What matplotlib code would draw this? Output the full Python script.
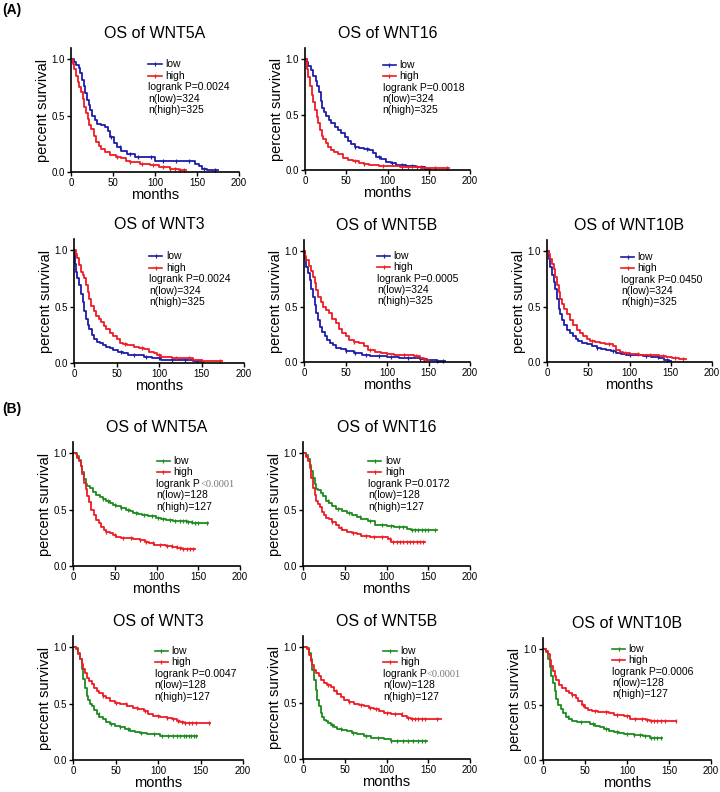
import matplotlib
matplotlib.use('Agg')
import matplotlib.pyplot as plt
import numpy as np

plt.rcParams['font.family'] = ['Liberation Sans', 'DejaVu Sans']

# ---- data: Kaplan-Meier curves (months, survival) ----
# (A) TCGA set, n(low)=324 / n(high)=325
a_wnt5a_low_t = [0, 3, 6, 9, 11, 13, 15, 17, 19, 21, 23, 25, 28, 31, 36, 41, 44, 47, 51, 55, 60, 67, 76, 98, 100, 144, 148, 152, 156, 162, 175]
a_wnt5a_low_s = [1.0, .98, .95, .92, .88, .82, .76, .70, .64, .59, .55, .50, .46, .43, .42, .40, .36, .31, .26, .22, .19, .16, .13, .13, .10, .10, .07, .05, .03, .015, .015]
a_wnt5a_high_t = [0, 2, 4, 6, 8, 10, 12, 14, 16, 18, 20, 22, 24, 27, 30, 33, 36, 40, 47, 53, 59, 65, 70, 82, 94, 105, 118, 128, 137]
a_wnt5a_high_s = [1.0, .96, .91, .85, .80, .75, .71, .65, .58, .52, .47, .42, .38, .32, .27, .23, .20, .18, .15, .13, .12, .10, .09, .075, .06, .045, .03, .015, .015]

a_wnt16_low_t = [0, 2, 4, 7, 10, 13, 15, 17, 19, 21, 23, 26, 29, 32, 36, 40, 44, 48, 52, 56, 60, 65, 72, 77, 82, 86, 92, 98, 104, 110, 122, 135, 145, 152]
a_wnt16_low_s = [1.0, .97, .94, .90, .85, .80, .76, .70, .62, .56, .52, .49, .45, .42, .39, .36, .33, .30, .26, .23, .21, .20, .19, .18, .15, .12, .10, .076, .06, .045, .04, .03, .01, .005]
a_wnt16_high_t = [0, 2, 4, 6, 8, 10, 12, 14, 16, 18, 20, 22, 25, 28, 31, 35, 40, 46, 52, 58, 65, 72, 77, 90, 115, 140, 160, 175]
a_wnt16_high_s = [1.0, .91, .84, .76, .68, .61, .54, .48, .42, .36, .31, .28, .24, .21, .18, .16, .14, .11, .09, .08, .067, .055, .045, .035, .03, .02, .015, .015]

a_wnt3_low_t = [0, 1, 2, 4, 6, 8, 10, 12, 14, 16, 18, 21, 24, 27, 30, 34, 38, 42, 46, 52, 58, 64, 70, 82, 92, 102, 115, 130, 140, 150, 152]
a_wnt3_low_s = [1.0, .88, .81, .75, .69, .61, .54, .46, .39, .34, .30, .25, .21, .19, .18, .16, .145, .13, .115, .10, .085, .075, .07, .055, .04, .03, .027, .024, .015, .01, .01]
a_wnt3_high_t = [0, 2, 4, 6, 8, 10, 12, 14, 16, 18, 20, 23, 26, 29, 32, 35, 38, 42, 46, 50, 54, 58, 62, 70, 76, 82, 88, 94, 98, 102, 115, 130, 140, 150, 160, 174]
a_wnt3_high_s = [1.0, .97, .93, .87, .81, .78, .75, .69, .63, .57, .51, .46, .42, .39, .36, .33, .30, .27, .24, .21, .18, .17, .16, .145, .13, .12, .10, .085, .07, .055, .045, .04, .03, .018, .015, .015]

a_wnt5b_low_t = [0, 1, 3, 5, 7, 9, 11, 13, 15, 17, 19, 22, 25, 28, 31, 35, 38, 44, 50, 60, 70, 80, 89, 100, 115, 128, 140, 148, 160, 170]
a_wnt5b_low_s = [1.0, .93, .86, .80, .74, .66, .59, .51, .44, .38, .32, .27, .23, .20, .17, .15, .13, .115, .10, .08, .066, .055, .05, .045, .04, .036, .03, .02, .012, .01]
a_wnt5b_high_t = [0, 1, 3, 6, 9, 11, 13, 15, 17, 20, 23, 26, 30, 34, 38, 42, 46, 50, 54, 60, 66, 72, 77, 85, 93, 100, 109, 120, 132, 140, 144, 150]
a_wnt5b_high_s = [1.0, .96, .92, .87, .82, .77, .71, .65, .59, .54, .50, .47, .44, .39, .35, .30, .26, .23, .20, .18, .17, .14, .11, .09, .08, .07, .066, .06, .05, .04, .02, .02]

a_wnt10b_low_t = [0, 2, 4, 6, 8, 10, 12, 14, 16, 18, 21, 24, 28, 32, 35, 38, 43, 48, 54, 60, 66, 72, 78, 84, 90, 96, 106, 116, 126, 136, 142, 148, 150]
a_wnt10b_low_s = [1.0, .93, .86, .78, .72, .66, .57, .48, .43, .38, .33, .29, .26, .23, .21, .19, .175, .16, .145, .13, .12, .11, .095, .08, .075, .067, .06, .05, .045, .036, .02, .006, .006]
a_wnt10b_high_t = [0, 2, 4, 6, 8, 10, 12, 14, 16, 18, 20, 24, 28, 32, 36, 40, 44, 48, 52, 58, 64, 70, 76, 80, 84, 88, 92, 100, 112, 124, 136, 144, 152, 160, 168]
a_wnt10b_high_s = [1.0, .97, .93, .88, .84, .77, .69, .63, .57, .52, .48, .43, .38, .33, .29, .26, .23, .21, .19, .18, .17, .165, .16, .14, .11, .09, .08, .075, .067, .06, .05, .045, .036, .03, .03]

# (B) second set, n(low)=128 / n(high)=127
b_wnt5a_low_t = [0, 3, 5, 7, 9, 11, 13, 15, 17, 20, 24, 28, 32, 36, 40, 44, 48, 52, 58, 64, 68, 72, 78, 83, 90, 99, 105, 111, 120, 131, 137, 143, 162]
b_wnt5a_low_s = [1.0, 1.0, .98, .94, .89, .83, .77, .73, .71, .69, .66, .63, .61, .59, .575, .56, .545, .53, .515, .50, .485, .47, .46, .455, .44, .425, .42, .41, .40, .395, .39, .38, .38]
b_wnt5a_high_t = [0, 3, 5, 7, 9, 11, 13, 15, 17, 19, 22, 25, 28, 31, 34, 37, 40, 44, 48, 52, 58, 64, 72, 80, 86, 91, 97, 103, 111, 119, 125, 131, 146]
b_wnt5a_high_s = [1.0, .99, .96, .93, .89, .82, .74, .68, .62, .57, .50, .45, .41, .38, .35, .32, .30, .29, .275, .26, .25, .245, .24, .23, .215, .20, .19, .185, .175, .17, .16, .155, .155]

b_wnt16_low_t = [0, 4, 6, 8, 10, 12, 14, 16, 18, 21, 24, 27, 31, 35, 40, 47, 53, 59, 65, 70, 78, 86, 100, 109, 121, 125, 129, 140, 160]
b_wnt16_low_s = [1.0, .985, .95, .90, .84, .78, .73, .68, .67, .65, .62, .58, .555, .53, .51, .49, .47, .45, .435, .42, .40, .36, .355, .35, .344, .33, .315, .315, .315]
b_wnt16_high_t = [0, 4, 6, 8, 10, 12, 14, 16, 18, 20, 23, 25, 28, 31, 35, 39, 43, 47, 53, 59, 65, 70, 80, 90, 102, 105, 146]
b_wnt16_high_s = [1.0, .97, .93, .87, .78, .69, .63, .58, .55, .52, .48, .45, .43, .42, .39, .36, .335, .315, .30, .29, .28, .27, .26, .257, .24, .21, .21]

b_wnt3_low_t = [0, 4, 6, 8, 10, 12, 14, 16, 18, 20, 22, 25, 28, 31, 35, 39, 43, 49, 55, 61, 67, 73, 79, 87, 94, 102, 146]
b_wnt3_low_s = [1.0, .99, .95, .90, .81, .72, .64, .57, .53, .50, .48, .44, .41, .385, .36, .34, .32, .305, .29, .275, .26, .25, .24, .235, .23, .21, .21]
b_wnt3_high_t = [0, 4, 6, 8, 10, 12, 14, 16, 19, 22, 25, 28, 31, 35, 39, 43, 49, 55, 63, 71, 77, 83, 88, 94, 102, 110, 116, 122, 126, 130, 161]
b_wnt3_high_s = [1.0, .985, .94, .90, .85, .81, .77, .73, .70, .67, .64, .61, .59, .57, .55, .525, .51, .495, .48, .465, .45, .436, .41, .39, .385, .377, .36, .347, .34, .33, .33]

b_wnt5b_low_t = [0, 5, 7, 9, 11, 13, 15, 17, 19, 21, 23, 25, 27, 30, 33, 37, 41, 47, 53, 59, 65, 73, 81, 90, 97, 105, 149]
b_wnt5b_low_s = [1.0, .99, .95, .89, .80, .71, .62, .53, .47, .415, .38, .35, .34, .32, .30, .285, .27, .26, .25, .235, .22, .205, .19, .185, .18, .165, .165]
b_wnt5b_high_t = [0, 5, 7, 9, 11, 13, 16, 19, 22, 25, 29, 33, 37, 41, 45, 49, 55, 61, 67, 73, 79, 85, 91, 97, 105, 113, 119, 125, 129, 133, 165]
b_wnt5b_high_s = [1.0, .98, .93, .875, .84, .80, .77, .74, .71, .68, .66, .64, .61, .58, .555, .53, .51, .49, .48, .475, .46, .445, .43, .415, .405, .40, .385, .37, .36, .356, .356]

b_wnt10b_low_t = [0, 4, 6, 8, 10, 12, 14, 16, 18, 21, 24, 27, 31, 35, 40, 50, 56, 62, 68, 73, 79, 85, 91, 96, 108, 119, 127, 142]
b_wnt10b_low_s = [1.0, .97, .91, .84, .76, .69, .62, .55, .50, .46, .42, .39, .37, .355, .345, .34, .325, .31, .295, .28, .265, .25, .24, .23, .225, .22, .20, .20]
b_wnt10b_high_t = [0, 4, 6, 8, 10, 12, 14, 16, 19, 23, 27, 31, 35, 39, 42, 46, 50, 54, 58, 65, 73, 79, 85, 90, 96, 104, 112, 119, 123, 127, 158]
b_wnt10b_high_s = [1.0, .98, .955, .90, .85, .80, .76, .72, .68, .65, .62, .60, .59, .56, .53, .50, .47, .455, .44, .435, .43, .42, .41, .405, .40, .37, .37, .37, .36, .35, .35]

# censored observations (months)
a_wnt5a_cens = ([48, 58, 70, 80, 95, 110, 125, 140, 158, 172], [55, 70, 85, 98, 110, 118, 124, 130, 134])
a_wnt16_cens = ([60, 75, 90, 105, 118, 130, 140], [60, 72, 95, 117, 125, 136, 145, 158, 172])
a_wnt3_cens = ([55, 70, 85, 100, 115, 130, 145], [60, 80, 100, 120, 135, 150, 172])
a_wnt5b_cens = ([50, 62, 75, 90, 105, 125, 140, 160, 168], [60, 80, 100, 120, 135, 145])
a_wnt10b_cens = ([60, 80, 100, 120, 135, 145], [55, 75, 95, 110, 125, 140, 155, 165])
b_wnt5a_cens = ([36, 42, 50, 58, 66, 75, 85, 95, 102, 108, 116, 122, 128, 132, 135, 138, 142, 146, 150, 160],
                [40, 50, 60, 70, 80, 88, 96, 104, 112, 118, 124, 128, 132, 136, 140, 144])
b_wnt16_cens = ([30, 42, 55, 68, 80, 95, 105, 115, 120, 130, 134, 138, 142, 146, 150, 158],
                [35, 45, 60, 75, 85, 95, 104, 108, 112, 116, 120, 124, 128, 132, 136, 140, 144])
b_wnt3_cens = ([30, 45, 55, 65, 80, 95, 105, 112, 118, 122, 126, 130, 133, 136, 139, 142, 145],
               [35, 50, 62, 75, 85, 100, 110, 118, 124, 128, 132, 136, 140, 145, 160])
b_wnt5b_cens = ([35, 45, 60, 75, 90, 105, 112, 120, 126, 132, 138, 142, 146],
                [30, 40, 55, 70, 80, 88, 100, 110, 118, 126, 130, 134, 138, 142, 146, 160])
b_wnt10b_cens = ([30, 45, 60, 75, 88, 100, 108, 116, 122, 128, 132, 136, 140],
                 [35, 48, 62, 75, 88, 100, 110, 118, 124, 128, 132, 136, 140, 145, 158])

genes = ['WNT5A', 'WNT16', 'WNT3', 'WNT5B', 'WNT10B']
a_pvals = ['0.0024', '0.0018', '0.0024', '0.0005', '0.0450']
b_pvals = ['<0.0001', '0.0172', '0.0047', '<0.0001', '0.0006']
a_n = ('n(low)=324', 'n(high)=325')
b_n = ('n(low)=128', 'n(high)=127')

BLUE = '#1c1caa'
RED = '#ee1c24'
GREEN = '#1f8a1f'

# layout in pixels: left, right, top, bottom ; legend x / y (axes fraction)
panels = [
    ('A', 0, (a_wnt5a_low_t, a_wnt5a_low_s), (a_wnt5a_high_t, a_wnt5a_high_s), a_wnt5a_cens, (71, 239, 48, 172), 0.46, 0.87),
    ('A', 1, (a_wnt16_low_t, a_wnt16_low_s), (a_wnt16_high_t, a_wnt16_high_s), a_wnt16_cens, (305, 470, 48, 170), 0.47, 0.86),
    ('A', 2, (a_wnt3_low_t, a_wnt3_low_s), (a_wnt3_high_t, a_wnt3_high_s), a_wnt3_cens, (74, 244, 239, 363), 0.44, 0.86),
    ('A', 3, (a_wnt5b_low_t, a_wnt5b_low_s), (a_wnt5b_high_t, a_wnt5b_high_s), a_wnt5b_cens, (304, 470, 240, 362), 0.44, 0.87),
    ('A', 4, (a_wnt10b_low_t, a_wnt10b_low_s), (a_wnt10b_high_t, a_wnt10b_high_s), a_wnt10b_cens, (547, 712, 240, 362), 0.45, 0.86),
    ('B', 0, (b_wnt5a_low_t, b_wnt5a_low_s), (b_wnt5a_high_t, b_wnt5a_high_s), b_wnt5a_cens, (73, 240, 442, 566), 0.50, 0.85),
    ('B', 1, (b_wnt16_low_t, b_wnt16_low_s), (b_wnt16_high_t, b_wnt16_high_s), b_wnt16_cens, (303, 470, 442, 566), 0.39, 0.85),
    ('B', 2, (b_wnt3_low_t, b_wnt3_low_s), (b_wnt3_high_t, b_wnt3_high_s), b_wnt3_cens, (73, 243, 636, 760), 0.48, 0.88),
    ('B', 3, (b_wnt5b_low_t, b_wnt5b_low_s), (b_wnt5b_high_t, b_wnt5b_high_s), b_wnt5b_cens, (303, 470, 636, 759), 0.48, 0.88),
    ('B', 4, (b_wnt10b_low_t, b_wnt10b_low_s), (b_wnt10b_high_t, b_wnt10b_high_s), b_wnt10b_cens, (543, 711, 638, 760), 0.41, 0.91),
]

W, H = 720, 792
fig = plt.figure(figsize=(W / 100, H / 100), dpi=100)


def surv_at(t, s, c):
    i = np.searchsorted(t, c, side='right') - 1
    return np.asarray(s)[i]


for part, gi, low, high, cens, (l, r, top, bot), lx, ly in panels:
    ax = fig.add_axes([l / W, 1 - bot / H, (r - l) / W, (bot - top) / H])
    low_col = BLUE if part == 'A' else GREEN
    for (t, s), col, ct in [(low, low_col, cens[0]), (high, RED, cens[1])]:
        ax.plot(t, s, drawstyle='steps-post', color=col, lw=1.3, clip_on=False)
        ax.plot(ct, surv_at(t, s, ct), ls='none', marker='|', ms=3, mew=0.9, color=col, clip_on=False)

    ax.set_xlim(0, 200)
    ax.set_ylim(0, 1.1)
    ax.set_xticks([0, 50, 100, 150, 200])
    ax.set_yticks([0.0, 0.5, 1.0])
    ax.set_yticklabels(['0.0', '0.5', '1.0'])
    for side in ['top', 'right']:
        ax.spines[side].set_visible(False)
    for side in ['left', 'bottom']:
        ax.spines[side].set_linewidth(1.2)
    ax.tick_params(direction='out', length=3, width=1, labelsize=7, pad=1.5)
    ax.set_xlabel('months', fontsize=10.5, labelpad=0)
    ax.set_ylabel('percent survival', fontsize=10.5, labelpad=1)
    ax.set_title('OS of ' + genes[gi], fontsize=11.5, pad=7)

    # legend block drawn as in the original
    step = 0.093
    for k, (lab, col) in enumerate([('low', low_col), ('high', RED)]):
        yy = ly - k * step
        ax.plot([lx, lx + 0.08], [yy, yy], transform=ax.transAxes, color=col, lw=1.2, clip_on=False)
        ax.plot([lx + 0.04], [yy], transform=ax.transAxes, marker='|', ms=3, mew=0.9, color=col, clip_on=False)
        ax.text(lx + 0.10, yy, lab, transform=ax.transAxes, fontsize=7.5, va='center')
    pv = a_pvals[gi] if part == 'A' else b_pvals[gi]
    nn = a_n if part == 'A' else b_n
    y2 = ly - 2 * step
    if pv.startswith('<'):
        t1 = ax.text(lx, y2, 'logrank P', transform=ax.transAxes, fontsize=7.5, va='center')
        ax.annotate(pv, xy=(1, 0), xycoords=t1, va='bottom', ha='left', fontsize=7.5,
                    family='Liberation Serif', color='#777777')
    else:
        ax.text(lx, y2, 'logrank P=' + pv, transform=ax.transAxes, fontsize=7.5, va='center')
    ax.text(lx, ly - 3 * step, nn[0], transform=ax.transAxes, fontsize=7.5, va='center')
    ax.text(lx, ly - 4 * step, nn[1], transform=ax.transAxes, fontsize=7.5, va='center')

fig.text(2 / W, 1 - 3 / H, '(A)', fontsize=10, weight='bold', va='top')
fig.text(2 / W, 1 - 402 / H, '(B)', fontsize=10, weight='bold', va='top')

fig.savefig('out.png', dpi=100)
